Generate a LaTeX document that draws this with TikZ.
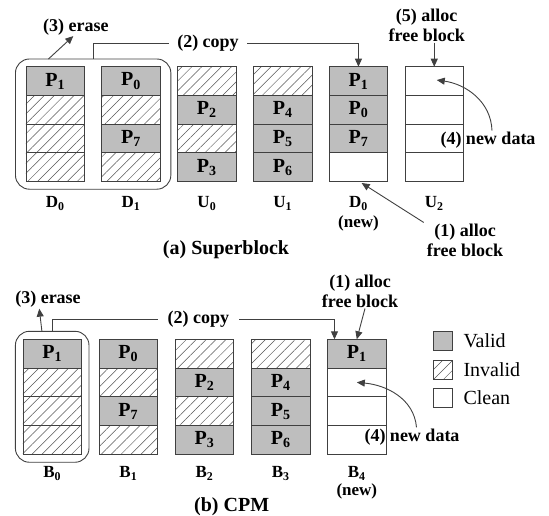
\documentclass[tikz,border=0pt]{standalone}
\usepackage{fontspec}
\setmainfont{Liberation Serif}
\usetikzlibrary{patterns.meta,arrows.meta,fit,calc}
\definecolor{validgray}{HTML}{BEBEBE}
\definecolor{linegray}{HTML}{404040}
\definecolor{hatchgray}{HTML}{555555}
\begin{document}
\begin{tikzpicture}[x=1pt,y=-1pt,
  cellbox/.style={draw=linegray, line width=0.8pt, minimum width=58.6pt, minimum height=28.7pt,
    inner sep=0pt, outer sep=0pt, font=\fontsize{20}{22}\selectfont\bfseries},
  validcell/.style={cellbox, fill=validgray},
  invalidcell/.style={cellbox, pattern={Lines[angle=45,distance=7pt,line width=0.5pt]}, pattern color=hatchgray},
  cleancell/.style={cellbox, fill=white},
  grpbox/.style={draw=linegray, line width=0.9pt, rounded corners=14pt, inner sep=0pt, outer sep=0pt},
  ann/.style={font=\fontsize{18}{20}\selectfont\bfseries, align=center, inner sep=1pt},
  blab/.style={font=\fontsize{17}{19}\selectfont\bfseries, inner sep=1pt},
  captext/.style={font=\fontsize{20}{22}\selectfont\bfseries, inner sep=1pt},
  conn/.style={draw=linegray, line width=0.9pt},
  arr/.style={conn, -{Triangle[length=8pt,width=7pt]}},
  swatch/.style={draw=linegray, line width=0.6pt, minimum size=19pt, inner sep=0pt, outer sep=0pt},
  legtext/.style={font=\fontsize{20}{22}\selectfont, anchor=west, inner sep=0pt}
]
\useasboundingbox (0,0) rectangle (549,516);

% ---------- (a) Superblock ----------
\foreach \j/\sty/\txt in {0/validcell/{P\textsubscript{1}},1/invalidcell/{},2/invalidcell/{},3/invalidcell/{}}
  \node[\sty] (a-0-\j) at (55.25, 81.05+28.7*\j) {\txt};
\foreach \j/\sty/\txt in {0/validcell/{P\textsubscript{0}},1/invalidcell/{},2/validcell/{P\textsubscript{7}},3/invalidcell/{}}
  \node[\sty] (a-1-\j) at (131.05, 81.05+28.7*\j) {\txt};
\foreach \j/\sty/\txt in {0/invalidcell/{},1/validcell/{P\textsubscript{2}},2/invalidcell/{},3/validcell/{P\textsubscript{3}}}
  \node[\sty] (a-2-\j) at (206.85, 81.05+28.7*\j) {\txt};
\foreach \j/\sty/\txt in {0/invalidcell/{},1/validcell/{P\textsubscript{4}},2/validcell/{P\textsubscript{5}},3/validcell/{P\textsubscript{6}}}
  \node[\sty] (a-3-\j) at (282.65, 81.05+28.7*\j) {\txt};
\foreach \j/\sty/\txt in {0/validcell/{P\textsubscript{1}},1/validcell/{P\textsubscript{0}},2/validcell/{P\textsubscript{7}},3/cleancell/{}}
  \node[\sty] (a-4-\j) at (358.45, 81.05+28.7*\j) {\txt};
\foreach \j in {0,1,2,3}
  \node[cleancell] (a-5-\j) at (434.25, 81.05+28.7*\j) {};

\node[grpbox, fit=(a-0-0)(a-1-3), inner xsep=10.5pt, inner ysep=7.7pt] (grpA) {};

\node[blab] (la-0) at (55.25,203.3) {D\textsubscript{0}};
\node[blab] (la-1) at (131.05,203.3) {D\textsubscript{1}};
\node[blab] (la-2) at (206.85,203.3) {U\textsubscript{0}};
\node[blab] (la-3) at (282.65,203.3) {U\textsubscript{1}};
\node[blab] (la-4) at (358.45,203.3) {D\textsubscript{0}};
\node[blab] (la-4n) at (358.45,223.3) {(new)};
\node[blab] (la-5) at (434.25,203.3) {U\textsubscript{2}};

\node[captext] (capA) at (226,250) {(a) Superblock};

% annotations (a)
\node[ann] (erA) at (75.8,26.7) {(3) erase};
\draw[arr] ($(grpA.north west)+(33,0)$) -- ($(erA.south)+(-2.5,0)$);

\draw[arr] (grpA.north) -- ++(0,-16) coordinate (cpA) -| (a-4-0.north);
\node[ann, fill=white, inner xsep=8pt] (copyA) at (208,43.3) {(2) copy};

\node[ann] (allocA) at (426.7,25) {(5) alloc\\free block};
\draw[arr] (allocA.south -| a-5-0.north) -- (a-5-0.north);

\node[ann] (allocC) at (465,240) {(1) alloc\\free block};
\draw[arr] ($(allocC.north west)+(-2,0)$) -- ($(a-4-3.south)+(3.2,1.5)$);

\node[ann] (ndA) at (488,140) {(4) new data};
\draw[arr] ($(ndA.north)+(4,0)$) to[out=92,in=-8] ($(a-5-0.center)+(2.5,-1)$);

% ---------- (b) CPM ----------
\foreach \j/\sty/\txt in {0/validcell/{P\textsubscript{1}},1/invalidcell/{},2/invalidcell/{},3/invalidcell/{}}
  \node[\sty] (b-0-\j) at (52.2, 353.65+28.75*\j) {\txt};
\foreach \j/\sty/\txt in {0/validcell/{P\textsubscript{0}},1/invalidcell/{},2/validcell/{P\textsubscript{7}},3/invalidcell/{}}
  \node[\sty] (b-1-\j) at (128.35, 353.65+28.75*\j) {\txt};
\foreach \j/\sty/\txt in {0/invalidcell/{},1/validcell/{P\textsubscript{2}},2/invalidcell/{},3/validcell/{P\textsubscript{3}}}
  \node[\sty] (b-2-\j) at (204.5, 353.65+28.75*\j) {\txt};
\foreach \j/\sty/\txt in {0/invalidcell/{},1/validcell/{P\textsubscript{4}},2/validcell/{P\textsubscript{5}},3/validcell/{P\textsubscript{6}}}
  \node[\sty] (b-3-\j) at (280.65, 353.65+28.75*\j) {\txt};
\foreach \j/\sty/\txt in {0/validcell/{P\textsubscript{1}},1/cleancell/{},2/cleancell/{},3/cleancell/{}}
  \node[\sty] (b-4-\j) at (356.8, 353.65+28.75*\j) {\txt};

\node[grpbox, fit=(b-0-0)(b-0-3), inner xsep=7.5pt, inner ysep=8pt] (grpB) {};

\node[blab] (lb-0) at (52.2,473.3) {B\textsubscript{0}};
\node[blab] (lb-1) at (128.35,473.3) {B\textsubscript{1}};
\node[blab] (lb-2) at (204.5,473.3) {B\textsubscript{2}};
\node[blab] (lb-3) at (280.65,473.3) {B\textsubscript{3}};
\node[blab] (lb-4) at (356.8,473.3) {B\textsubscript{4}};
\node[blab] (lb-4n) at (356.8,491.7) {(new)};

\node[captext] (capB) at (231.7,507) {(b) CPM};

% annotations (b)
\node[ann] (erB) at (48,299.3) {(3) erase};
\draw[arr] ($(grpB.north west)+(26.5,0)$) -- ($(erB.south)+(-8.7,0)$);

\coordinate (cpB) at ($(b-4-0.north west)+(7,0)$);
\draw[arr] (grpB.north) -- ++(0,-12) -| (cpB);
\node[ann, fill=white, inner xsep=10pt] (copyB) at (198.3,319.3) {(2) copy};

\node[ann] (allocD) at (360,291) {(1) alloc\\free block};
\draw[arr] ($(allocD.south)+(5,0)$) -- (b-4-0.north);

\node[ann] (ndB) at (412,436.7) {(4) new data};
\draw[arr] ($(ndB.north)+(4.5,0)$) to[out=95,in=-5] (b-4-1.center);

% legend
\node[swatch, fill=validgray] (lgV) at (443,341) {};
\node[swatch, pattern={Lines[angle=45,distance=7pt,line width=0.5pt]}, pattern color=hatchgray] (lgI) at (443,369.5) {};
\node[swatch, fill=white] (lgC) at (443,397.5) {};
\node[legtext] (ltV) at (463.3,341) {Valid};
\node[legtext] (ltI) at (463.3,369.5) {Invalid};
\node[legtext] (ltC) at (463.3,397.5) {Clean};
\end{tikzpicture}
\end{document}
